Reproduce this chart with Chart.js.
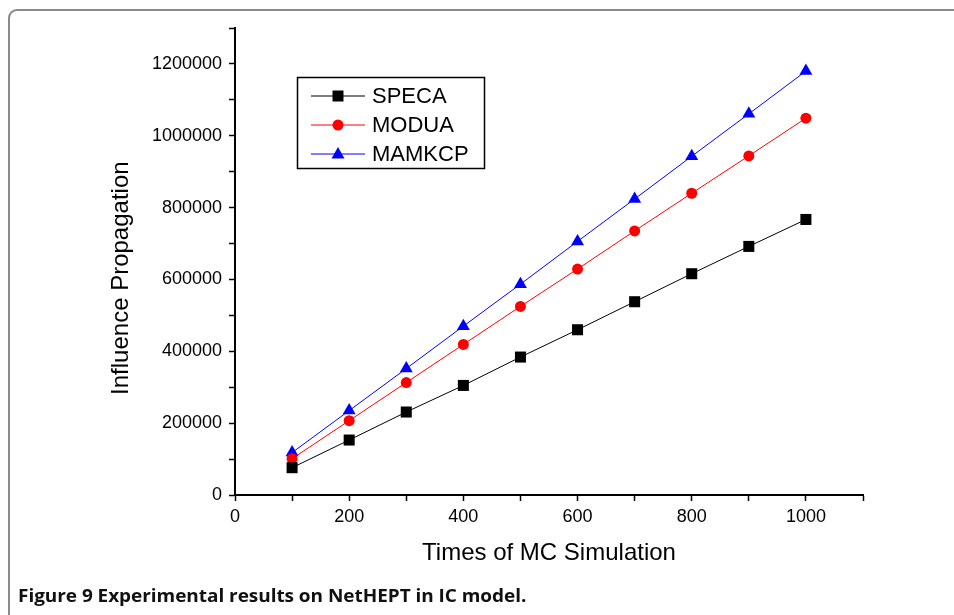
<!DOCTYPE html>
<html>
<head>
<meta charset="utf-8">
<script src="https://cdn.jsdelivr.net/npm/chart.js@4/dist/chart.umd.min.js"></script>
<style>
  html, body { margin: 0; padding: 0; background: #fff; overflow: hidden; }
  #wrap { position: relative; width: 954px; height: 615px; }
  #frame {
    position: absolute; left: 8px; top: 9px; width: 1000px; height: 700px;
    border-top: 2px solid #8a8a8a; border-left: 2px solid #8a8a8a;
    border-top-left-radius: 9px; box-sizing: border-box;
  }
  #caption {
    position: absolute; left: 18px; top: 584px;
    font-family: "Open Sans", sans-serif; font-weight: bold; font-size: 19px;
    color: #111; white-space: nowrap; letter-spacing: -0.05px;
    transform: scaleY(0.92); transform-origin: left top;
  }
  #chartBox { position: absolute; left: 0; top: 0; width: 954px; height: 615px; }
</style>
</head>
<body>
<div id="wrap">
  <div id="frame"></div>
  <div id="chartBox"><canvas id="icChart"></canvas></div>
  <div id="caption">Figure 9 Experimental results on NetHEPT in IC model.</div>
</div>
<script>
  // values
  const mcTimes = [100, 200, 300, 400, 500, 600, 700, 800, 900, 1000];
  const speca  = [76000, 153000, 231000, 305000, 384000, 460000, 538000, 616000, 692000, 767000];
  const modua  = [101000, 207000, 313000, 419000, 525000, 629000, 735000, 840000, 944000, 1049000];
  const mamkcp = [118000, 235000, 352000, 470000, 587000, 706000, 824000, 943000, 1061000, 1180000];

  const seriesNames = ['SPECA', 'MODUA', 'MAMKCP'];
  const seriesColors = ['#000000', '#ff0000', '#0000ff'];
  const seriesStyles = ['rect', 'circle', 'triangle'];

  function pts(vals) {
    return mcTimes.map((x, i) => ({ x: x, y: vals[i] }));
  }

  // draws one marker, used by the boxed legend
  function marker(ctx, style, x, y, color) {
    ctx.fillStyle = color;
    ctx.beginPath();
    if (style === 'rect') {
      ctx.rect(x - 5.5, y - 5.5, 11, 11);
    } else if (style === 'circle') {
      ctx.arc(x, y, 5.5, 0, Math.PI * 2);
    } else {
      ctx.moveTo(x, y - 7);
      ctx.lineTo(x + 6.5, y + 4.5);
      ctx.lineTo(x - 6.5, y + 4.5);
      ctx.closePath();
    }
    ctx.fill();
  }

  const boxLegend = {
    id: 'boxLegend',
    afterDraw(chart) {
      const ctx = chart.ctx;
      ctx.save();
      ctx.strokeStyle = '#000';
      ctx.lineWidth = 1.5;
      ctx.strokeRect(297.5, 77.5, 187, 91);
      chart.data.datasets.forEach((ds, i) => {
        const y = 96 + i * 29;
        ctx.strokeStyle = ds.borderColor;
        ctx.lineWidth = 1;
        ctx.beginPath();
        ctx.moveTo(311, y);
        ctx.lineTo(365, y);
        ctx.stroke();
        marker(ctx, ds.pointStyle, 338, y, ds.backgroundColor);
        ctx.fillStyle = '#000';
        ctx.font = '22px "Liberation Sans", Arial, sans-serif';
        ctx.textBaseline = 'middle';
        ctx.fillText(ds.label, 372, y + 1);
      });
      ctx.restore();
    }
  };

  const datasets = [speca, modua, mamkcp].map((vals, i) => ({
    label: seriesNames[i],
    data: pts(vals),
    borderColor: seriesColors[i],
    backgroundColor: seriesColors[i],
    borderWidth: 1,
    pointStyle: seriesStyles[i],
    pointRadius: seriesStyles[i] === 'rect' ? 7.8 : (seriesStyles[i] === 'circle' ? 5.5 : 7.5),
    pointBorderWidth: 0,
    tension: 0
  }));

  const ctx = document.getElementById('icChart').getContext('2d');
  new Chart(ctx, {
    type: 'line',
    data: { datasets: datasets },
    options: {
      responsive: true,
      maintainAspectRatio: false,
      animation: false,
      layout: { padding: { left: 0, top: 28, right: 91, bottom: 40 } },
      plugins: {
        legend: { display: false },
        tooltip: { enabled: false }
      },
      scales: {
        x: {
          type: 'linear',
          min: 0,
          max: 1100,
          border: { color: '#000', width: 2 },
          grid: { drawOnChartArea: false, drawTicks: true, tickLength: 6, tickColor: '#000', tickWidth: 1.5 },
          ticks: {
            stepSize: 100,
            autoSkip: false,
            maxRotation: 0,
            padding: 5,
            color: '#000',
            font: { family: '"Liberation Sans", Arial, sans-serif', size: 18 },
            callback: v => (v % 200 === 0 ? String(v) : '')
          },
          title: {
            display: true,
            text: 'Times of MC Simulation',
            color: '#000',
            font: { family: '"Liberation Sans", Arial, sans-serif', size: 24 },
            padding: { top: 0, bottom: 7 }
          },
          afterFit: s => { s.height = 80; }
        },
        y: {
          type: 'linear',
          min: 0,
          max: 1300000,
          border: { color: '#000', width: 2 },
          grid: { drawOnChartArea: false, drawTicks: true, tickLength: 6, tickColor: '#000', tickWidth: 1.5 },
          ticks: {
            stepSize: 100000,
            autoSkip: false,
            padding: 7,
            color: '#000',
            font: { family: '"Liberation Sans", Arial, sans-serif', size: 18 },
            callback: v => (v % 200000 === 0 ? String(v) : '')
          },
          title: {
            display: true,
            // trailing spaces nudge the label down a little, as in the figure
            text: 'Influence Propagation     ',
            color: '#000',
            font: { family: '"Liberation Sans", Arial, sans-serif', size: 24 },
            padding: { top: 107, bottom: 0 }
          },
          afterFit: s => { s.width = 235; }
        }
      }
    },
    plugins: [boxLegend]
  });
</script>
</body>
</html>
